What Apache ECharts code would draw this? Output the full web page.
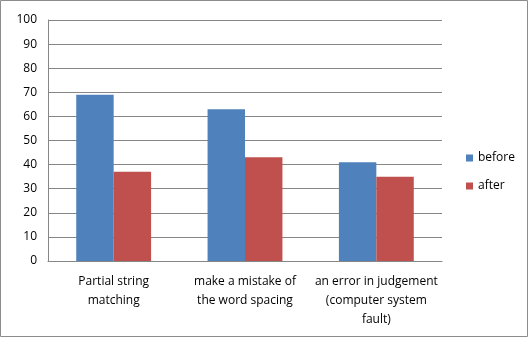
<!DOCTYPE html>
<html><head><meta charset="utf-8">
<script src="https://cdn.jsdelivr.net/npm/echarts@6/dist/echarts.min.js"></script>
<style>html,body{margin:0;padding:0;background:#fff}#c{width:528px;height:337px}</style>
</head><body><div id="c"></div>
<script>
const categories = ["Partial string\nmatching", "make a mistake of\nthe word spacing", "an error in judgement\n(computer system\nfault)"];
const before = [69, 63, 41];
const after = [37, 43, 35];
const seriesNames = ["before", "after"];

const chart = echarts.init(document.getElementById('c'), null, {renderer: 'canvas'});
const font = "'Open Sans', 'Liberation Sans', Arial, sans-serif";
chart.setOption({
  animation: false,
  graphic: [{type: 'rect', shape: {x: 0.5, y: 0.5, width: 527, height: 336}, style: {fill: 'none', stroke: '#8c8c8c', lineWidth: 1}, silent: true}],
  grid: {left: 48, right: 86, top: 20, bottom: 76, containLabel: false},
  legend: {
    orient: 'vertical', left: 461, top: 145, itemWidth: 7, itemHeight: 7, itemGap: 12,
    icon: 'rect', textStyle: {fontFamily: font, fontSize: 12, color: '#000', lineHeight: 16},
    data: seriesNames
  },
  xAxis: {
    type: 'category', data: categories,
    axisLine: {lineStyle: {color: '#868686'}}, axisTick: {show: false},
    axisLabel: {fontFamily: font, fontSize: 12, color: '#000', lineHeight: 19, margin: 11, interval: 0}
  },
  yAxis: {
    type: 'value', min: 0, max: 100, interval: 10,
    axisLine: {show: true, lineStyle: {color: '#868686'}}, axisTick: {show: false},
    splitLine: {lineStyle: {color: '#868686'}},
    axisLabel: {fontFamily: font, fontSize: 12, color: '#000', margin: 11}
  },
  series: [
    {name: seriesNames[0], type: 'bar', data: before, itemStyle: {color: '#4F81BD'}, barGap: '0%', barCategoryGap: '43%'},
    {name: seriesNames[1], type: 'bar', data: after, itemStyle: {color: '#C0504D'}, barGap: '0%', barCategoryGap: '43%'}
  ]
});
</script></body></html>
